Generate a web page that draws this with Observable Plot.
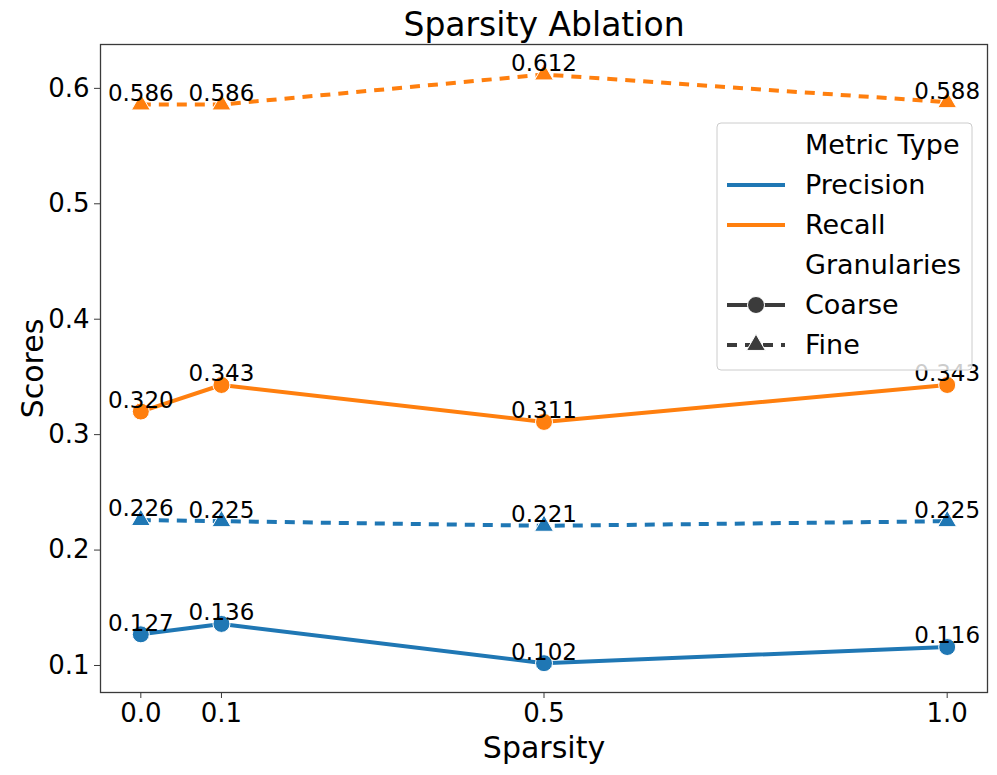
<!DOCTYPE html>
<html>
<head>
<meta charset="utf-8">
<script src="https://cdn.jsdelivr.net/npm/d3@7"></script>
<script src="https://cdn.jsdelivr.net/npm/@observablehq/plot@0.6"></script>
<style>
  body { margin: 0; background: white; }
  #chart { font-family: "DejaVu Sans", sans-serif; }
</style>
</head>
<body>
<div id="chart"></div>
<script>
const sparsity = [0.0, 0.1, 0.5, 1.0];
const metrics = ["Precision", "Recall"];
const granularities = ["Coarse", "Fine"];
const precisionCoarse = [0.127, 0.136, 0.102, 0.116];
const precisionFine = [0.226, 0.225, 0.221, 0.225];
const recallCoarse = [0.320, 0.343, 0.311, 0.343];
const recallFine = [0.586, 0.586, 0.612, 0.588];
const yTicks = [0.1, 0.2, 0.3, 0.4, 0.5, 0.6];
const colors = ["#1f77b4", "#ff7f0e"];

const series = [
  {metric: "Precision", gran: "Coarse", values: precisionCoarse},
  {metric: "Precision", gran: "Fine", values: precisionFine},
  {metric: "Recall", gran: "Coarse", values: recallCoarse},
  {metric: "Recall", gran: "Fine", values: recallFine}
];
const rows = series.flatMap(s => s.values.map((v, i) => ({metric: s.metric, gran: s.gran, x: sparsity[i], y: v, key: s.metric + s.gran})));
const coarse = rows.filter(d => d.gran === "Coarse");
const fine = rows.filter(d => d.gran === "Fine");
const fmt1 = d3.format(".1f");
const fmt3 = d3.format(".3f");
const axisColor = "#3a3a3a";

const chart = Plot.plot({
  width: 997,
  height: 775,
  marginLeft: 100,
  marginRight: 10,
  marginTop: 44,
  marginBottom: 83,
  style: {fontFamily: "DejaVu Sans, sans-serif", background: "white", color: "black"},
  x: {domain: [-0.05, 1.05]},
  y: {domain: [0.0766, 0.638]},
  color: {domain: metrics, range: colors},
  marks: [
    Plot.line(coarse, {x: "x", y: "y", z: "key", stroke: "metric", strokeWidth: 4, strokeLinecap: "butt"}),
    Plot.line(fine, {x: "x", y: "y", z: "key", stroke: "metric", strokeWidth: 4, strokeDasharray: "10,8", strokeLinecap: "butt"}),
    Plot.dot(coarse, {x: "x", y: "y", fill: "metric", stroke: "white", strokeWidth: 1, r: 8.5, symbol: "circle"}),
    Plot.dot(fine, {x: "x", y: "y", fill: "metric", stroke: "white", strokeWidth: 1, r: 7, symbol: "triangle"}),
    Plot.text(rows, {x: "x", y: "y", text: d => fmt3(d.y), fontSize: 23, fill: "black", dy: -11}),
    Plot.frame({stroke: axisColor, strokeWidth: 1.3}),
    Plot.axisX({ticks: sparsity, tickFormat: fmt1, tickSize: 6, tickPadding: 5, fontSize: 26, label: null, stroke: axisColor, color: "black"}),
    Plot.axisY({ticks: yTicks, tickFormat: fmt1, tickSize: 6, tickPadding: 5, fontSize: 26, label: null, stroke: axisColor}),
    Plot.text(["Sparsity Ablation"], {frameAnchor: "top", lineAnchor: "middle", dy: -19, fontSize: 33, fill: "black"}),
    Plot.text(["Sparsity"], {frameAnchor: "bottom", lineAnchor: "middle", dy: 56, fontSize: 30, fill: "black"}),
    Plot.text(["Scores"], {frameAnchor: "left", textAnchor: "middle", lineAnchor: "middle", dx: -67, rotate: -90, fontSize: 30, fill: "black"})
  ]
});

// Legend
const svg = d3.select(chart);
const lg = svg.append("g").attr("font-family", "DejaVu Sans, sans-serif").attr("font-size", 27).attr("text-anchor", "start");
lg.append("rect").attr("x", 717).attr("y", 123).attr("width", 255).attr("height", 247)
  .attr("rx", 4).attr("fill", "white").attr("fill-opacity", 0.8).attr("stroke", "#cccccc").attr("stroke-width", 1);
const items = [
  {label: "Metric Type", type: "title"},
  {label: metrics[0], type: "color", color: colors[0]},
  {label: metrics[1], type: "color", color: colors[1]},
  {label: "Granularies", type: "title"},
  {label: granularities[0], type: "coarse"},
  {label: granularities[1], type: "fine"}
];
items.forEach((it, i) => {
  const cy = 145 + i * 40;
  if (it.type === "color") {
    lg.append("line").attr("x1", 727).attr("x2", 785).attr("y1", cy).attr("y2", cy)
      .attr("stroke", it.color).attr("stroke-width", 4);
  } else if (it.type === "coarse") {
    lg.append("line").attr("x1", 727).attr("x2", 785).attr("y1", cy).attr("y2", cy)
      .attr("stroke", "#3b3b3b").attr("stroke-width", 4);
    lg.append("circle").attr("cx", 756).attr("cy", cy).attr("r", 8.5).attr("fill", "#3b3b3b").attr("stroke", "white").attr("stroke-width", 1);
  } else if (it.type === "fine") {
    lg.append("line").attr("x1", 727).attr("x2", 785).attr("y1", cy).attr("y2", cy)
      .attr("stroke", "#3b3b3b").attr("stroke-width", 4).attr("stroke-dasharray", "10,8");
    lg.append("path").attr("transform", `translate(756,${cy})`)
      .attr("d", d3.symbol(d3.symbolTriangle, 7 * 7 * Math.PI)()).attr("fill", "#3b3b3b").attr("stroke", "white").attr("stroke-width", 1);
  }
  lg.append("text").attr("x", 805).attr("y", cy).attr("dy", "0.35em").attr("fill", "black").text(it.label);
});

document.getElementById("chart").appendChild(chart);
</script>
</body>
</html>
